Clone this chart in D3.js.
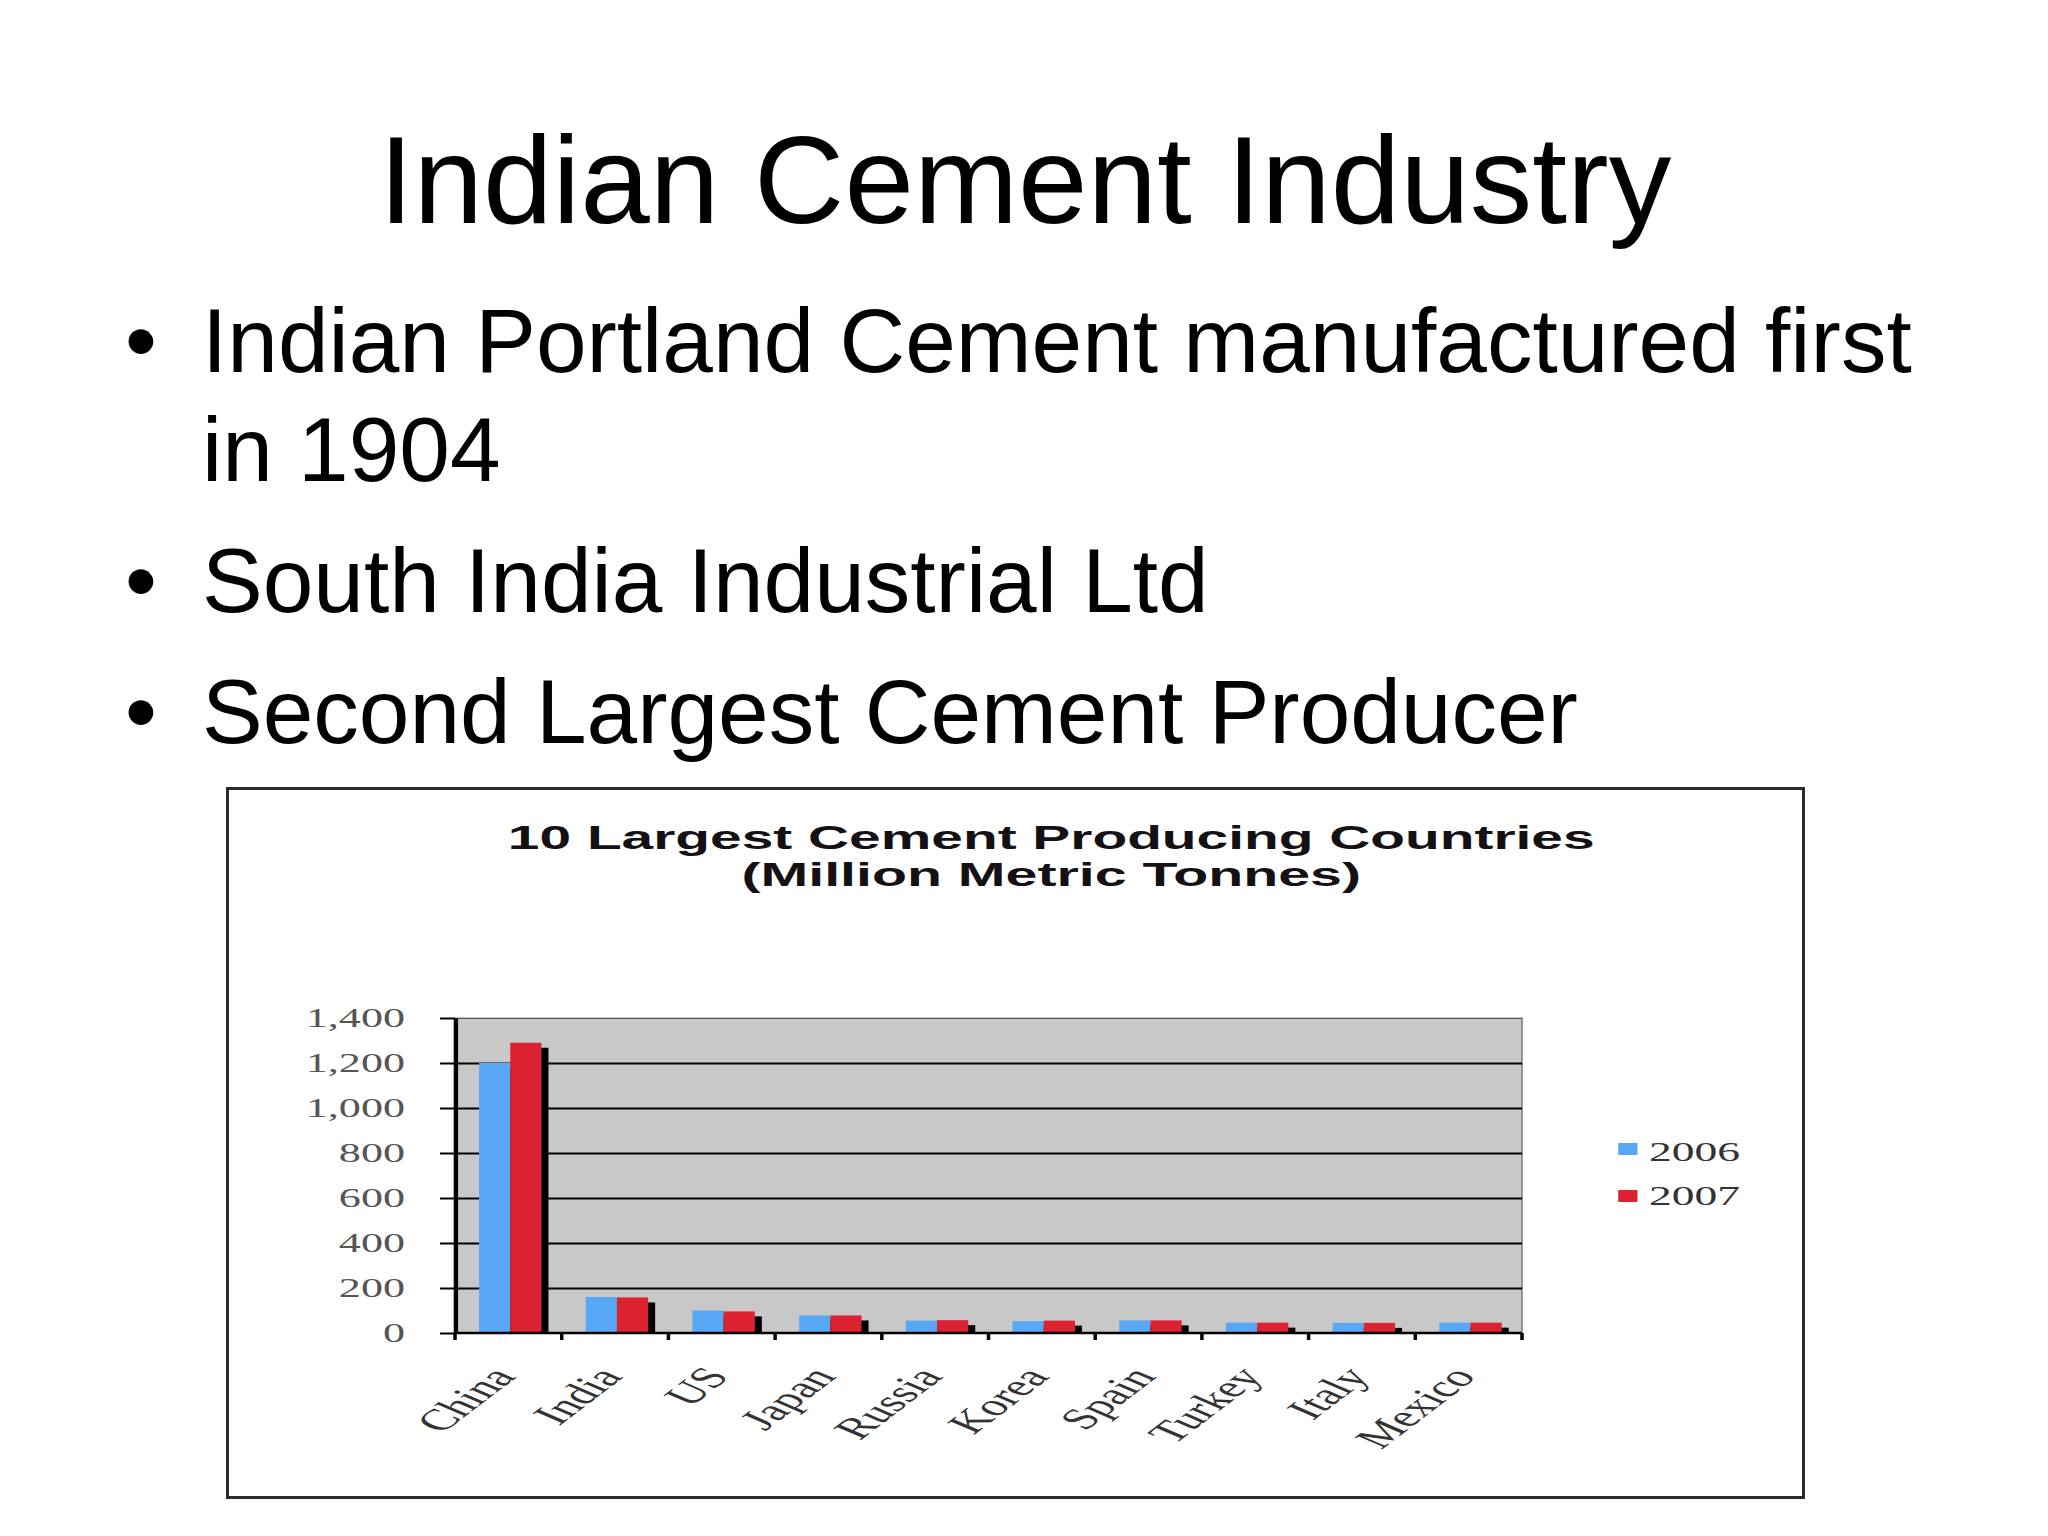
<!DOCTYPE html>
<html><head><meta charset="utf-8">
<script src="https://cdn.jsdelivr.net/npm/d3@7"></script>
<style>html,body{margin:0;padding:0;background:#fff;} svg{display:block}</style>
</head><body>
<svg id="c" width="2048" height="1536"></svg>
<script>
const slideTitle = "Indian Cement Industry";
const bulletLines = [
  {text: "Indian Portland Cement manufactured first", bullet: true},
  {text: "in 1904", bullet: false},
  {text: "South India Industrial Ltd", bullet: true},
  {text: "Second Largest Cement Producer", bullet: true}
];
const chartTitleLines = ["10 Largest Cement Producing Countries", "(Million Metric Tonnes)"];
const categories = ["China","India","US","Japan","Russia","Korea","Spain","Turkey","Italy","Mexico"];
const seriesNames = ["2006","2007"];
const values2006 = [1200,160,100,78,55,53,56,46,45,46];
const values2007 = [1290,158,96,78,57,55,56,46,45,46];
const yTicks = [0,200,400,600,800,1000,1200,1400];
const seriesColors = ["#58a8f6","#dc2230"];

const svg = d3.select("#c");
svg.append("rect").attr("width",2048).attr("height",1536).attr("fill","#fff");

// Slide title
svg.append("text").attr("x",1025).attr("y",223).attr("text-anchor","middle")
  .style("font-family","'Liberation Sans', Arial, sans-serif").style("font-size","125px").attr("fill","#000")
  .text(slideTitle);

// Bullets
const bulletY = [372,481,612,743];
bulletLines.forEach((b,i)=>{
  if(b.bullet){
    svg.append("text").attr("x",125).attr("y",bulletY[i])
      .style("font-family","'Liberation Sans', Arial, sans-serif").style("font-size","91px").text("\u2022");
  }
  svg.append("text").attr("x",202).attr("y",bulletY[i])
    .style("font-family","'Liberation Sans', Arial, sans-serif").style("font-size","91px").text(b.text);
});

// Chart frame
svg.append("rect").attr("x",227.5).attr("y",788.5).attr("width",1576).attr("height",709)
  .attr("fill","#fff").attr("stroke","#2a2a2a").attr("stroke-width",3);

const S = 1.75;
const g = svg.append("g").attr("transform",`translate(227,788) scale(${S},1)`);
const plotL = 130.3, plotR = 740, plotT = 230, plotB = 545;

const x = d3.scaleBand().domain(categories).range([plotL, plotR]);
const bw = x.bandwidth();
const xs = d3.scaleBand().domain(seriesNames).range([bw*0.225, bw*0.81]);
const y = d3.scaleLinear().domain([0,1400]).range([plotB, plotT]);

// chart title
chartTitleLines.forEach((t,i)=>{
  g.append("text").attr("x",471).attr("y",[61,98][i]).attr("text-anchor","middle")
    .style("font-family","'Liberation Sans', Arial, sans-serif").style("font-weight","bold").style("font-size","33px")
    .attr("fill","#141014")
    .attr("textLength",[621,354][i]).attr("lengthAdjust","spacingAndGlyphs")
    .text(t);
});

// plot background
g.append("rect").attr("x",plotL).attr("y",plotT).attr("width",plotR-plotL).attr("height",plotB-plotT)
  .attr("fill","#c8c8c8").attr("stroke","#8a8a8a").attr("stroke-width",1);

// gridlines
const grid = g.append("g").attr("transform",`translate(${plotL},0)`)
  .call(d3.axisLeft(y).tickValues(yTicks.filter(v=>v>0)).tickSize(-(plotR-plotL)).tickFormat(""));
grid.select(".domain").remove();
grid.selectAll(".tick line").attr("stroke","#000").attr("stroke-width",2);
grid.selectAll(".tick").filter(d=>d===1400).select("line").attr("stroke","#555").attr("stroke-width",1.2);

// series data
const data = categories.map((c,i)=>({cat:c, vals:[values2006[i], values2007[i]]}));

// shadows
const groups = g.append("g");
data.forEach(d=>{
  d.vals.forEach((v,j)=>{
    groups.append("rect")
      .attr("x", x(d.cat)+xs(seriesNames[j])+4)
      .attr("y", y(v)+5)
      .attr("width", xs.bandwidth())
      .attr("height", Math.max(0, plotB - y(v) - 5))
      .attr("fill","#000");
  });
});
// bars
data.forEach(d=>{
  d.vals.forEach((v,j)=>{
    groups.append("rect")
      .attr("x", x(d.cat)+xs(seriesNames[j]))
      .attr("y", y(v))
      .attr("width", xs.bandwidth())
      .attr("height", plotB - y(v))
      .attr("fill", seriesColors[j]);
  });
});

// y axis
const yAxis = g.append("g").attr("transform",`translate(${plotL},0)`)
  .call(d3.axisLeft(y).tickValues(yTicks).tickSizeInner(8.6).tickSizeOuter(0).tickPadding(20).tickFormat(d3.format(",")));
yAxis.select(".domain").attr("stroke","#000").attr("stroke-width",2.5);
yAxis.selectAll(".tick line").attr("stroke","#000").attr("stroke-width",2);
yAxis.selectAll(".tick text").style("font-family","'Liberation Serif', 'Times New Roman', serif")
  .style("font-size","28px").attr("fill","#555")
  .each(function(){ const L=this.getComputedTextLength(); d3.select(this).attr("textLength",L*0.9).attr("lengthAdjust","spacingAndGlyphs"); });

// x axis
g.append("line").attr("x1",plotL).attr("x2",plotR).attr("y1",plotB).attr("y2",plotB)
  .attr("stroke","#000").attr("stroke-width",2.5);
const xTickPos = categories.map(c=>x(c)).concat([x(categories[categories.length-1])+bw]);
g.selectAll(".xt").data(xTickPos).enter().append("line")
  .attr("x1",d=>d).attr("x2",d=>d).attr("y1",plotB).attr("y2",plotB+7)
  .attr("stroke","#000").attr("stroke-width",2);
g.selectAll(".xl").data(categories).enter().append("text")
  .attr("transform",d=>`translate(${x(d)+bw/2+5},${plotB+44}) rotate(-53)`)
  .attr("text-anchor","end")
  .style("font-family","'Liberation Serif', 'Times New Roman', serif").style("font-size","30px")
  .attr("fill","#333").text(d=>d);

// legend
const leg = g.append("g");
seriesNames.forEach((s,i)=>{
  leg.append("rect").attr("x",795).attr("y",355+i*47).attr("width",11).attr("height",12).attr("fill",seriesColors[i]);
  leg.append("text").attr("x",812.6).attr("y",373+i*44)
    .style("font-family","'Liberation Serif', 'Times New Roman', serif").style("font-size","28px")
    .attr("fill","#333").text(s)
    .each(function(){ const L=this.getComputedTextLength(); d3.select(this).attr("textLength",L*0.93).attr("lengthAdjust","spacingAndGlyphs"); });
});
</script>
</body></html>
